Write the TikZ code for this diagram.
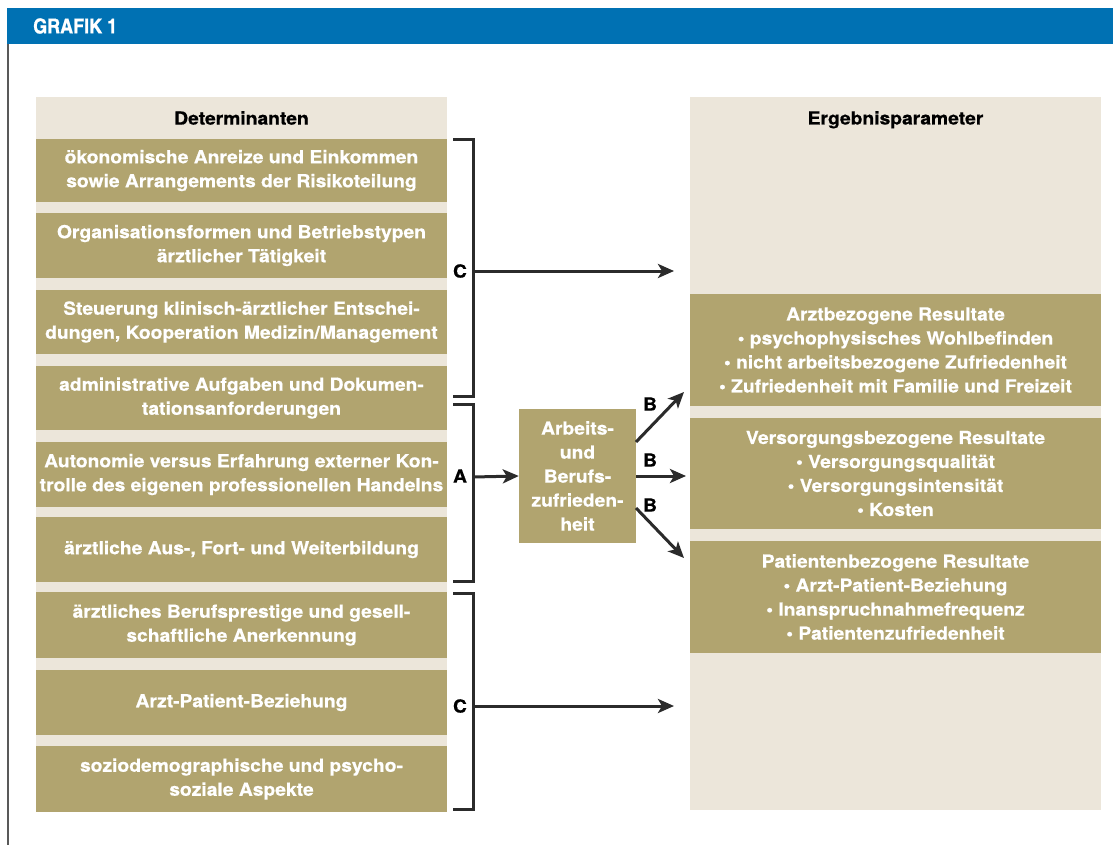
\documentclass[tikz,border=0pt]{standalone}
\usepackage{fontspec}
\usetikzlibrary{arrows.meta}
\newfontfamily\hbf{texgyreheros-bold.otf}[FakeStretch=1.07, FakeBold=0.6]
\newfontfamily\hcn{texgyreheroscn-bold.otf}[FakeStretch=1.07, FakeBold=0.8]
\definecolor{hdrblue}{HTML}{0071B3}
\definecolor{beige}{HTML}{ECE6DA}
\definecolor{olive}{HTML}{B1A46F}
\definecolor{ink}{HTML}{2B2B2B}
\tikzset{
  panel/.style={fill=beige, draw=none},
  lbox/.style={fill=olive, draw=none, minimum width=411pt, inner sep=0pt, align=center,
     text=white, font=\hbf\fontsize{18}{24}\selectfont},
  rbox/.style={lbox},
  cbox/.style={lbox, minimum width=117pt, minimum height=134pt},
  hdr/.style={font=\hbf\fontsize{18}{24}\selectfont, text=black, inner sep=0pt},
  lab/.style={font=\hbf\fontsize{18}{24}\selectfont, text=black, inner sep=0pt},
  brk/.style={draw=ink, line width=3pt, line join=miter},
  arr/.style={draw=ink, line width=3pt, -{Stealth[length=16pt,width=14pt,inset=4pt]}},
}
\begin{document}
\begin{tikzpicture}[x=1pt,y=-1pt]
\useasboundingbox (0,0) rectangle (1113,845);
\fill[white] (0,0) rectangle (1113,845);
% header
\fill[hdrblue] (7,8) rectangle (1113,44);
\node[anchor=west, text=white, font=\hcn\fontsize{20.5}{24}\selectfont, inner sep=0pt] (title) at (33,26) {GRAFIK 1};
\draw[gray!70!black, line width=1.5pt] (8,44) -- (8,845);
% panels
\fill[panel] (36,97) rectangle (447,812);
\fill[panel] (690,97) rectangle (1101,810);
\node[hdr] (hl) at (241.5,118) {Determinanten};
\node[hdr, anchor=base] (hr) at (895.5,124.5) {Ergebnisparameter};
% left boxes
\node[lbox, minimum height=63pt] (d1) at (241.5,170.5) {ökonomische Anreize und Einkommen\\sowie Arrangements der Risikoteilung};
\node[lbox, minimum height=65pt] (d2) at (241.5,245.5) {Organisationsformen und Betriebstypen\\ärztlicher Tätigkeit};
\node[lbox, minimum height=64pt] (d3) at (241.5,322) {Steuerung klinisch-ärztlicher Entschei-\\dungen, Kooperation Medizin/Management};
\node[lbox, minimum height=64pt] (d4) at (241.5,398) {administrative Aufgaben und Dokumen-\\tationsanforderungen};
\node[lbox, minimum height=65pt] (d5) at (241.5,474.5) {Autonomie versus Erfahrung externer Kon-\\trolle des eigenen professionellen Handelns};
\node[lbox, minimum height=65pt] (d6) at (241.5,549.5) {ärztliche Aus-, Fort- und Weiterbildung};
\node[lbox, minimum height=66pt] (d7) at (241.5,625) {ärztliches Berufsprestige und gesell-\\schaftliche Anerkennung};
\node[lbox, minimum height=65pt] (d8) at (241.5,702.5) {Arzt-Patient-Beziehung};
\node[lbox, minimum height=66pt] (d9) at (241.5,779) {soziodemographische und psycho-\\soziale Aspekte};
% right boxes
\node[rbox, minimum height=112pt] (r1) at (895.5,350) {Arztbezogene Resultate\\• psychophysisches Wohlbefinden\\• nicht arbeitsbezogene Zufriedenheit\\• Zufriedenheit mit Familie und Freizeit};
\node[rbox, minimum height=111pt] (r2) at (895.5,473.5) {Versorgungsbezogene Resultate\\• Versorgungsqualität\\• Versorgungsintensität\\• Kosten};
\node[rbox, minimum height=112pt] (r3) at (895.5,597) {Patientenbezogene Resultate\\• Arzt-Patient-Beziehung\\• Inanspruchnahmefrequenz\\• Patientenzufriedenheit};
% center box
\node[cbox] (cen) at (577.5,476) {Arbeits-\\und\\Berufs-\\zufrieden-\\heit};
% brackets
\draw[brk] (453,140) -- (473,140) -- (473,396) -- (453,396);
\draw[brk] (453,404) -- (473,404) -- (473,581) -- (453,581);
\draw[brk] (453,593) -- (473,593) -- (473,809) -- (453,809);
\coordinate (c1s) at (473,271);
\coordinate (c1e) at (674,271);
\coordinate (as) at (473,477);
\coordinate (c2s) at (473,706);
\coordinate (c2e) at (674,706);
\node[lab] (lc1) at (460,271) {C};
\node[lab] (la) at (460,476) {A};
\node[lab] (lc2) at (460,706) {C};
\draw[arr] (c1s) -- (c1e);
\draw[arr] (as) -- (cen.west);
\draw[arr] (c2s) -- (c2e);
% B arrows
\coordinate (b1s) at (636,442);
\coordinate (b1e) at (684,392);
\coordinate (b2s) at (636,476);
\coordinate (b2e) at (686,476);
\coordinate (b3s) at (636,508);
\coordinate (b3e) at (684,558);
\draw[arr] (b1s) -- (b1e);
\draw[arr] (b2s) -- (b2e);
\draw[arr] (b3s) -- (b3e);
\node[lab] (lb1) at (650,404) {B};
\node[lab] (lb2) at (650,460) {B};
\node[lab] (lb3) at (650,505) {B};
\end{tikzpicture}
\end{document}
